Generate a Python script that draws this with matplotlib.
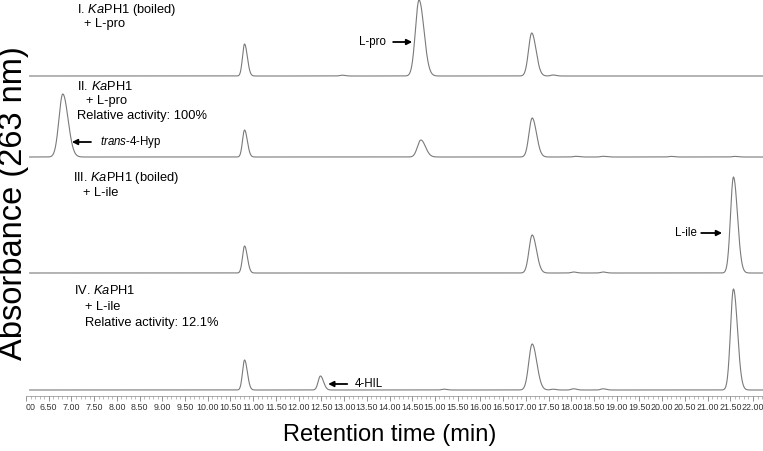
import numpy as np
import matplotlib
matplotlib.use("Agg")
import matplotlib.pyplot as plt
from matplotlib.ticker import MultipleLocator

plt.rcParams['font.family'] = ['Liberation Sans', 'DejaVu Sans']
plt.rcParams['mathtext.fontset'] = 'custom'
plt.rcParams['mathtext.rm'] = 'Liberation Sans'
plt.rcParams['mathtext.it'] = 'Liberation Sans:italic'

# peak tables: retention time (min), height (a.u.), sigma (min)
rt_I = [10.81, 12.96, 14.65, 17.13, 17.60]
h_I = [32, 0.8, 76, 43, 1.0]
w_I = [0.045, 0.05, 0.08, 0.07, 0.05]

rt_II = [6.81, 10.81, 14.69, 17.14, 18.10, 18.70, 20.20, 21.60]
h_II = [63, 27, 17, 39, 0.7, 0.7, 0.6, 0.6]
w_II = [0.085, 0.045, 0.075, 0.07, 0.05, 0.05, 0.05, 0.05]

rt_III = [10.81, 17.14, 18.05, 18.70, 21.57]
h_III = [27, 38, 1.0, 1.0, 96]
w_III = [0.045, 0.07, 0.05, 0.05, 0.065]

rt_IV = [10.81, 12.48, 15.20, 17.14, 17.60, 18.05, 18.70, 21.57]
h_IV = [30, 14, 0.8, 46, 0.8, 1.2, 1.2, 101]
w_IV = [0.045, 0.05, 0.05, 0.075, 0.05, 0.05, 0.05, 0.065]

TRACES = [(rt_I, h_I, w_I), (rt_II, h_II, w_II), (rt_III, h_III, w_III), (rt_IV, h_IV, w_IV)]
OFFSETS = [320, 239, 123, 6]

tick_values = np.arange(6.0, 22.01, 0.5)
tick_labels = ['00'] + ['%.2f' % t for t in tick_values[1:]]


def chromatogram(t, rts, heights, widths):
    y = np.zeros_like(t)
    for r, h, w in zip(rts, heights, widths):
        # slight tailing on the right side of each peak
        s = np.where(t < r, w, w * 1.35)
        y += h * np.exp(-0.5 * ((t - r) / s) ** 2)
    return y


fig = plt.figure(figsize=(7.63, 4.51), dpi=100)
ax = fig.add_axes([26 / 763, 1 - 396 / 451, 737 / 763, 396 / 451])

t = np.linspace(6.08, 22.22, 4000)
for (rts, hs, ws), off in zip(TRACES, OFFSETS):
    ax.plot(t, off + chromatogram(t, rts, hs, ws), color='#7a7a7a', lw=0.8, clip_on=False)

ax.set_xlim(6.0, 22.22)
ax.set_ylim(0, 396)
for s in ['left', 'right', 'top']:
    ax.spines[s].set_visible(False)
ax.spines['bottom'].set_color('#888888')
ax.spines['bottom'].set_linewidth(0.5)
ax.set_yticks([])
ax.set_xticks(tick_values)
ax.set_xticklabels(tick_labels, fontsize=6.4, color='#333333')
ax.get_xticklabels()[0].set_horizontalalignment('left')
ax.xaxis.set_minor_locator(MultipleLocator(0.1))
ax.tick_params(axis='x', which='major', length=3.5, width=0.5, color='#666666', pad=1.5)
ax.tick_params(axis='x', which='minor', length=2, width=0.4, color='#888888')

# sample descriptions
fs = 9.3
ax.text(7.12, 386, r'I. $Ka$PH1 (boiled)', fontsize=fs, va='center')
ax.text(7.28, 372, '+ L-pro', fontsize=fs, va='center')
ax.text(7.12, 310, r'II. $Ka$PH1', fontsize=fs, va='center')
ax.text(7.31, 295, '+ L-pro', fontsize=fs, va='center')
ax.text(7.12, 280, 'Relative activity: 100%', fontsize=fs, va='center')
ax.text(7.03, 218, r'III. $Ka$PH1 (boiled)', fontsize=fs, va='center')
ax.text(7.26, 203, '+ L-ile', fontsize=fs, va='center')
ax.text(7.06, 105, r'IV. $Ka$PH1', fontsize=fs, va='center')
ax.text(7.30, 89, '+ L-ile', fontsize=fs, va='center')
ax.text(7.30, 73, 'Relative activity: 12.1%', fontsize=fs, va='center')

# peak labels with arrows
arrow = dict(arrowstyle='-|>', color='black', lw=1.3, mutation_scale=8, shrinkA=0, shrinkB=0)
fa = 8.3
ax.annotate('', xy=(7.01, 254), xytext=(7.43, 254), arrowprops=arrow)
ax.text(7.63, 254, r'$trans$-4-Hyp', fontsize=fa, va='center')
ax.annotate('', xy=(14.50, 354), xytext=(14.08, 354), arrowprops=arrow)
ax.text(13.92, 354, 'L-pro', fontsize=fa, va='center', ha='right')
ax.annotate('', xy=(21.32, 163), xytext=(20.86, 163), arrowprops=arrow)
ax.text(20.76, 163, 'L-ile', fontsize=fa, va='center', ha='right')
ax.annotate('', xy=(12.65, 12), xytext=(13.07, 12), arrowprops=arrow)
ax.text(13.24, 12, '4-HIL', fontsize=fa, va='center')

fig.text(390 / 763, 1 - 435 / 451, 'Retention time (min)', fontsize=17, ha='center', va='center')
fig.text(14 / 763, 1 - 203 / 451, 'Absorbance (263 nm)', fontsize=23.5, rotation=90,
         ha='center', va='center')

fig.savefig('out.png', dpi=100)
